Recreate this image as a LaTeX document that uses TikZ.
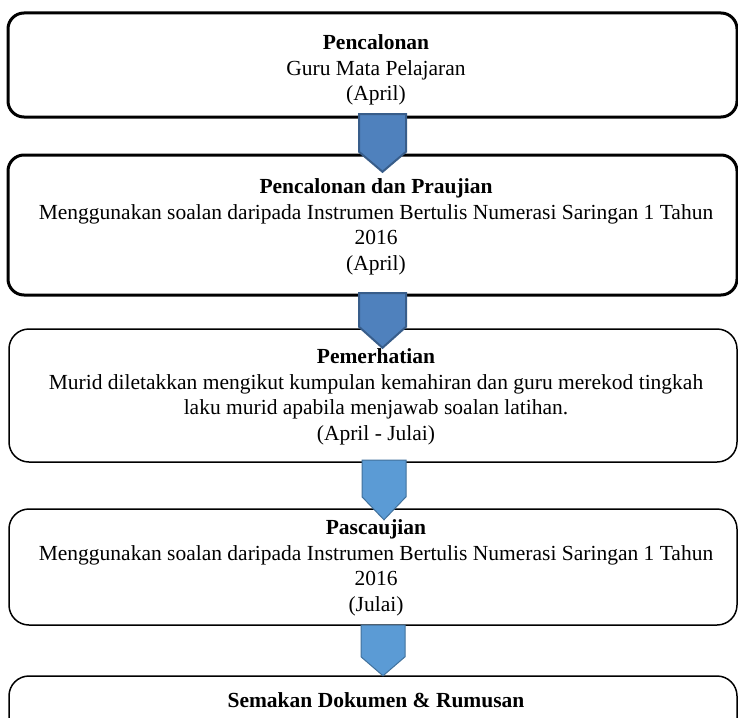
\documentclass[tikz,border=0pt]{standalone}
\usepackage{fontspec}
\setmainfont{Liberation Serif}
\usetikzlibrary{calc}
\definecolor{darkfill}{HTML}{4F81BD}
\definecolor{darkedge}{HTML}{385D8A}
\definecolor{lightfill}{HTML}{5B9BD5}
\definecolor{lightedge}{HTML}{41719C}
\tikzset{
  thickbox/.style={draw=black, line width=3pt, rounded corners=16pt, fill=white},
  thinbox/.style={draw=black, line width=1.5pt, rounded corners=20pt, fill=white},
  boxtext/.style={align=center, inner sep=0pt, font=\fontsize{21.5}{25.5}\selectfont},
  darkarrow/.style={fill=darkfill, draw=darkedge, line width=2pt, line join=miter},
  lightarrow/.style={fill=lightfill, draw=lightedge, line width=1pt, line join=miter},
}
\begin{document}
\begin{tikzpicture}[x=1pt, y=-1pt]
\useasboundingbox (0,0) rectangle (738,717);
\clip (0,0) rectangle (738,717);

% stage boxes
\draw[thickbox] (8,13) rectangle (737,117);
\node[inner sep=0pt, minimum width=729pt, minimum height=104pt] (b1) at (372.5,65) {};
\draw[thickbox] (8,155) rectangle (737,295);
\node[inner sep=0pt, minimum width=729pt, minimum height=140pt] (b2) at (372.5,225) {};
\draw[thinbox] (9,329) rectangle (737,462);
\node[inner sep=0pt, minimum width=728pt, minimum height=133pt] (b3) at (373,395.5) {};
\draw[thinbox] (9,509) rectangle (737,625);
\node[inner sep=0pt, minimum width=728pt, minimum height=116pt] (b4) at (373,567) {};
\draw[thinbox] (9,676) rectangle (737,780);
\node[inner sep=0pt, minimum width=728pt, minimum height=104pt] (b5) at (373,728) {};

% texts
\node[boxtext] (t1) at (376,70) {\textbf{Pencalonan}\\Guru Mata Pelajaran\\(April)};
\node[boxtext] (t2) at (376,227) {\textbf{Pencalonan dan Praujian}\\Menggunakan soalan daripada Instrumen Bertulis Numerasi Saringan 1 Tahun\\2016\\(April)};
\node[boxtext] (t3) at (376,397) {\textbf{Pemerhatian}\\Murid diletakkan mengikut kumpulan kemahiran dan guru merekod tingkah\\laku murid apabila menjawab soalan latihan.\\(April - Julai)};
\node[boxtext] (t4) at (376,568) {\textbf{Pascaujian}\\Menggunakan soalan daripada Instrumen Bertulis Numerasi Saringan 1 Tahun\\2016\\(Julai)};
\node[boxtext, anchor=base] (t5) at (376,707) {\textbf{Semakan Dokumen \& Rumusan}};

% block arrows between stages
\draw[darkarrow] ($(b1.south)+(-13.5,-3)$) -- ($(b1.south)+(33.5,-3)$)
  -- ($(b2.north)+(33.5,-3)$) -- ($(b2.north)+(10,17)$)
  -- ($(b2.north)+(-13.5,-3)$) -- cycle;
\draw[darkarrow] ($(b2.south)+(-13.5,-2)$) -- ($(b2.south)+(33.5,-2)$)
  -- ($(b3.north)+(33,-2)$) -- ($(b3.north)+(9.5,19)$)
  -- ($(b3.north)+(-14,-2)$) -- cycle;
\draw[lightarrow] ($(b3.south)+(-11,-2)$) -- ($(b3.south)+(33,-2)$)
  -- ($(b4.north)+(33,-12)$) -- ($(b4.north)+(11,11)$)
  -- ($(b4.north)+(-11,-12)$) -- cycle;
\draw[lightarrow] ($(b4.south)+(-12,0)$) -- ($(b4.south)+(32,0)$)
  -- ($(b5.north)+(32,-19)$) -- ($(b5.north)+(10,0)$)
  -- ($(b5.north)+(-12,-19)$) -- cycle;
\end{tikzpicture}
\end{document}
